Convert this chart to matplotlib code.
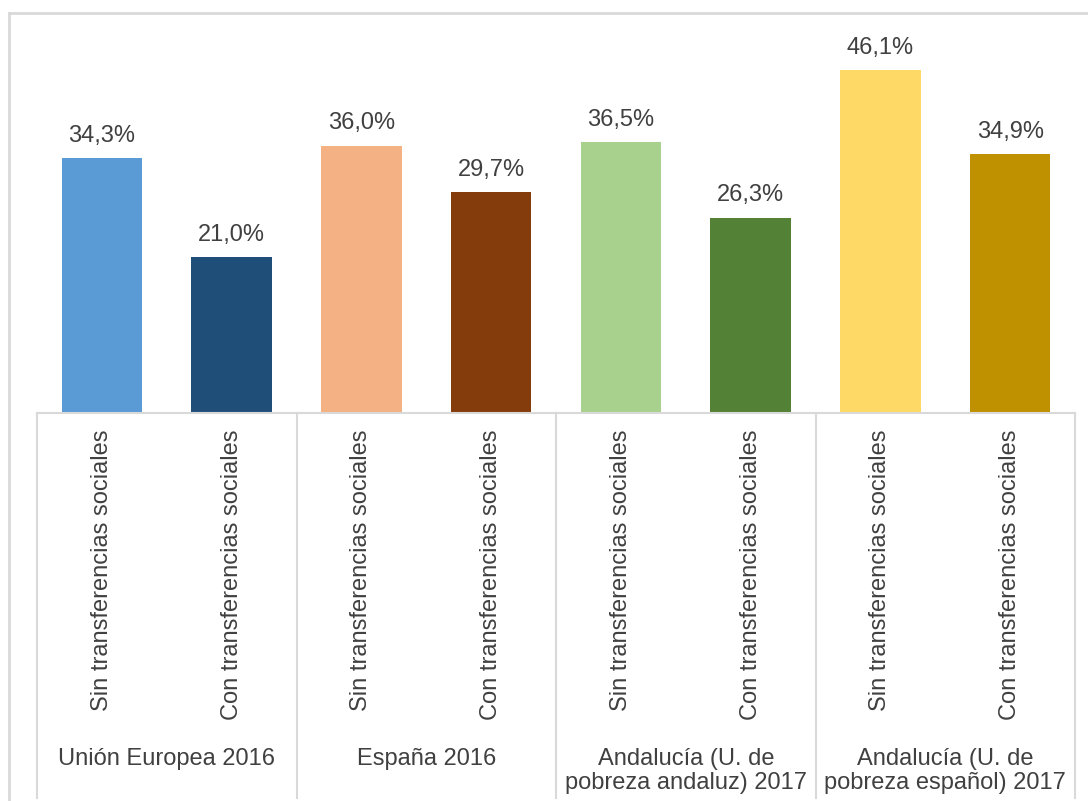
import matplotlib.pyplot as plt
from matplotlib.lines import Line2D

plt.rcParams['font.family'] = ['Liberation Sans', 'DejaVu Sans']

grupos = ['Unión Europea 2016', 'España 2016',
          'Andalucía (U. de\npobreza andaluz) 2017',
          'Andalucía (U. de\npobreza español) 2017']
etiquetas = ['Sin transferencias sociales', 'Con transferencias sociales'] * 4
valores = [34.3, 21.0, 36.0, 29.7, 36.5, 26.3, 46.1, 34.9]
colores = ['#5B9BD5', '#1F4E79', '#F4B183', '#843C0C',
           '#A9D18E', '#538135', '#FFD966', '#BF9000']

W, H = 1088, 801
fig = plt.figure(figsize=(W / 100, H / 100), dpi=100)
ax = fig.add_axes([37 / W, (H - 413) / H, (1075 - 37) / W, 371.5 / H])

gris = '#D9D9D9'
texto = '#404040'

x = list(range(len(valores)))
barras = ax.bar(x, valores, width=0.62, color=colores)
for b, v in zip(barras, valores):
    ax.annotate('{:.1f}%'.format(v).replace('.', ','),
                (b.get_x() + b.get_width() / 2, v),
                xytext=(0, 8), textcoords='offset points',
                ha='center', va='bottom', fontsize=17, color=texto)

ax.set_xlim(-0.5, 7.5)
ax.set_ylim(0, 50)
ax.set_yticks([])
ax.set_xticks(x)
ax.set_xticklabels(etiquetas, rotation=90, fontsize=17, color=texto)
ax.tick_params(axis='x', length=0, pad=12)
for s in ['top', 'right', 'left']:
    ax.spines[s].set_visible(False)
ax.spines['bottom'].set_color(gris)
ax.spines['bottom'].set_linewidth(1.5)

# separadores de grupo
tr = ax.get_xaxis_transform()
for sx in [-0.5, 1.5, 3.5, 5.5, 7.5]:
    ax.add_line(Line2D([sx, sx], [0, -1.035], transform=tr, color=gris,
                       lw=1.5, clip_on=False))

for i, g in enumerate(grupos):
    ax.text(2 * i + 0.5, -0.902, g, transform=tr, ha='center', va='top',
            fontsize=17, color=texto, linespacing=1.1)

# borde exterior
fig.add_artist(Line2D([9 / W, 1], [1 - 13 / H, 1 - 13 / H], color=gris, lw=2))
fig.add_artist(Line2D([9 / W, 9 / W], [0, 1 - 13 / H], color=gris, lw=2))

fig.savefig('out.png', dpi=100)
